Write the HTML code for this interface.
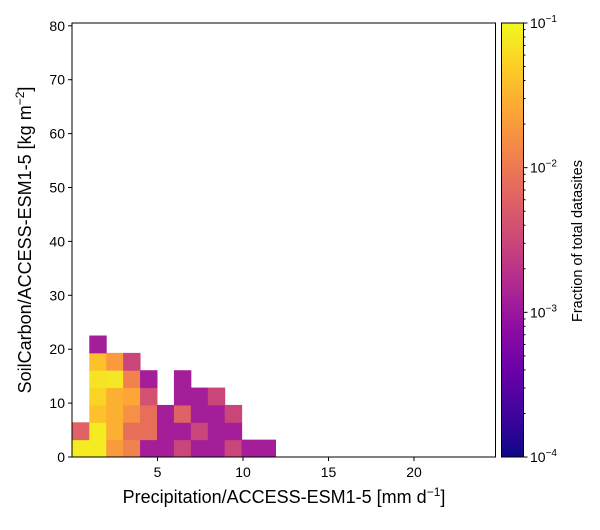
<!DOCTYPE html>
<html><head><meta charset="utf-8"><style>
body{margin:0;background:#fff;}
svg text{font-family:"Liberation Sans",sans-serif;fill:#000;}
</style></head><body>
<svg id="chart" width="600" height="525" xmlns="http://www.w3.org/2000/svg">
<defs><linearGradient id="plasma" x1="0" y1="1" x2="0" y2="0"></linearGradient></defs>
<g id="cells"></g>
<rect x="72" y="23" width="423.5" height="434" fill="none" stroke="#000" stroke-width="1"/>
<g id="xticks"></g>
<g id="yticks"></g>
<text x="284" y="503" font-size="18" text-anchor="middle">Precipitation/ACCESS-ESM1-5 [mm d<tspan font-size="12" dy="-7">−1</tspan><tspan dy="7">]</tspan></text>
<text transform="translate(31,240) rotate(-90)" font-size="18" text-anchor="middle">SoilCarbon/ACCESS-ESM1-5 [kg m<tspan font-size="12" dy="-7">−2</tspan><tspan dy="7">]</tspan></text>
<rect x="501.5" y="23" width="22" height="434" fill="url(#plasma)" stroke="#000" stroke-width="1"/>
<g id="cbticks"></g>
<text transform="translate(582,241) rotate(-90)" font-size="14.5" text-anchor="middle">Fraction of total datasites</text>
</svg>
<script>
const NS="http://www.w3.org/2000/svg";
const xTicks=[5,10,15,20];
const yTicks=[0,10,20,30,40,50,60,70,80];
const cbExps=[-4,-3,-2,-1];
const binX0=0.02, binW=0.99, binH=3.22;
// rows of fractions; row index = y bin, column index = x bin (null = empty)
const row0=[0.08,0.08,0.02,0.012,0.0012,0.0012,0.003,0.0012,0.0012,0.003,0.0012,0.0012];
const row1=[0.006,0.08,0.03,0.008,0.008,0.0012,0.0012,0.003,0.0012,0.0012];
const row2=[null,0.04,0.03,0.016,0.008,0.0012,0.006,0.0012,0.0012,0.003];
const row3=[null,0.055,0.03,0.025,0.004,null,0.0012,0.0012,0.003];
const row4=[null,0.07,0.075,0.012,0.0012,null,0.0012];
const row5=[null,0.04,0.02,0.003];
const row6=[null,0.0012];
const rows=[row0,row1,row2,row3,row4,row5,row6];
const X=v=>72+(v-0)*17.1, Y=v=>457-v*5.39;
const stops=["#0d0887","#41049d","#6a00a8","#8f0da4","#b12a90","#cc4778","#e16462","#f2844b","#fca636","#fcce25","#f0f921"];
function hex(c){return [1,3,5].map(i=>parseInt(c.substr(i,2),16));}
function plasma(t){t=Math.max(0,Math.min(1,t));const s=t*10,i=Math.min(9,Math.floor(s)),f=s-i;const a=hex(stops[i]),b=hex(stops[i+1]);return "rgb("+a.map((v,k)=>Math.round(v+(b[k]-v)*f)).join(",")+")";}
const g=document.getElementById("plasma");
stops.forEach((c,i)=>{const s=document.createElementNS(NS,"stop");s.setAttribute("offset",i/10);s.setAttribute("stop-color",c);g.appendChild(s);});
const cells=document.getElementById("cells");
rows.forEach((r,ri)=>r.forEach((v,ci)=>{if(v==null)return;
 const x0=X(binX0+ci*binW),x1=X(binX0+(ci+1)*binW),y0=Y(ri*binH),y1=Y((ri+1)*binH);
 const e=document.createElementNS(NS,"rect");
 e.setAttribute("x",x0);e.setAttribute("y",y1);e.setAttribute("width",x1-x0+0.5);e.setAttribute("height",y0-y1+0.5);
 e.setAttribute("fill",plasma((Math.log10(v)+4)/3));
 
 
 cells.appendChild(e);}));
function line(p,x1,y1,x2,y2){const l=document.createElementNS(NS,"line");l.setAttribute("x1",x1);l.setAttribute("y1",y1);l.setAttribute("x2",x2);l.setAttribute("y2",y2);l.setAttribute("stroke","#000");p.appendChild(l);return l;}
function txt(p,x,y,s,anchor,size){const t=document.createElementNS(NS,"text");t.setAttribute("x",x);t.setAttribute("y",y);t.setAttribute("font-size",size||14);t.setAttribute("text-anchor",anchor);t.textContent=s;p.appendChild(t);return t;}
const xg=document.getElementById("xticks");
xTicks.forEach(v=>{line(xg,X(v),457,X(v),461);const t=txt(xg,X(v),477,v,"middle");
 
 });
const yg=document.getElementById("yticks");
yTicks.forEach(v=>{line(yg,68,Y(v),72,Y(v));const t=txt(yg,65,Y(v)+5,v,"end");
 
 });
const cg=document.getElementById("cbticks");
const CY=e=>457-(e+4)/3*434;
cbExps.forEach(e=>{line(cg,523.5,CY(e),527.5,CY(e));
 const t=txt(cg,530,CY(e)+5,"10","start");
 const s=document.createElementNS(NS,"tspan");s.setAttribute("font-size","10");s.setAttribute("dy","-6");s.textContent="−"+(-e);t.appendChild(s);
 
 
 if(e<-1)for(let m=2;m<10;m++){const yy=CY(e+Math.log10(m));line(cg,523.5,yy,525.5,yy);}});
</script>
</body></html>
